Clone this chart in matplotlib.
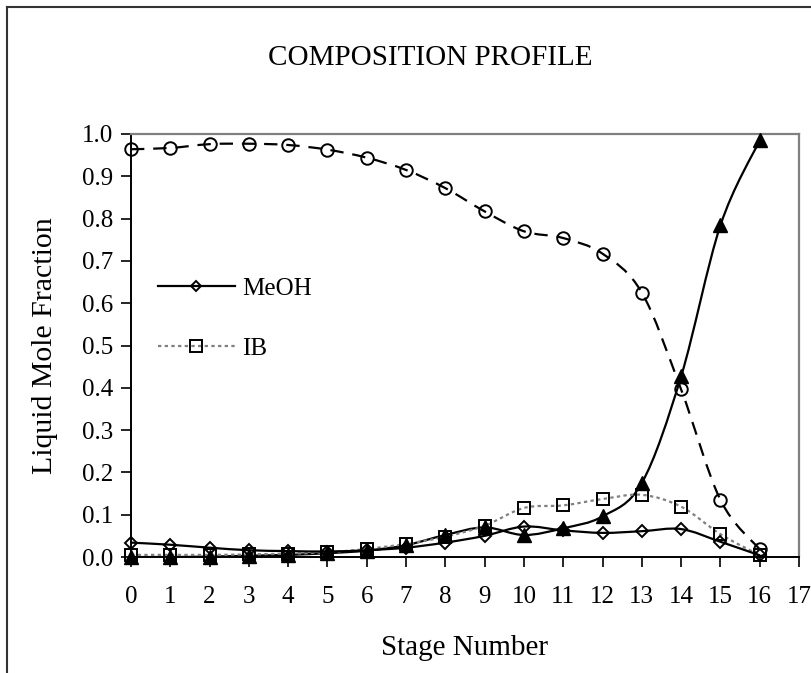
import numpy as np
import matplotlib
matplotlib.use("Agg")
import matplotlib.pyplot as plt
from matplotlib.path import Path
from matplotlib.patches import PathPatch
from matplotlib.lines import Line2D

plt.rcParams['font.family'] = ['Liberation Serif', 'DejaVu Serif']

stages = list(range(17))
circle_series = [0.964, 0.967, 0.976, 0.977, 0.974, 0.963, 0.944, 0.915, 0.872,
                 0.817, 0.770, 0.754, 0.717, 0.625, 0.396, 0.135, 0.018]
triangle_series = [0.000, 0.000, 0.001, 0.003, 0.005, 0.009, 0.015, 0.028, 0.052,
                   0.070, 0.052, 0.068, 0.096, 0.175, 0.427, 0.784, 0.985]
meoh = [0.034, 0.029, 0.022, 0.016, 0.014, 0.013, 0.016, 0.022, 0.034,
        0.050, 0.072, 0.063, 0.057, 0.061, 0.066, 0.036, 0.004]
ib = [0.005, 0.005, 0.005, 0.006, 0.008, 0.011, 0.019, 0.031, 0.048,
      0.074, 0.116, 0.122, 0.137, 0.147, 0.119, 0.054, 0.004]

xticks = list(range(18))
yticks = [0.0, 0.1, 0.2, 0.3, 0.4, 0.5, 0.6, 0.7, 0.8, 0.9, 1.0]


def smooth_path(x, y):
    x = np.asarray(x, float)
    y = np.asarray(y, float)
    pts = np.column_stack([x, y])
    n = len(pts)
    verts = [pts[0]]
    codes = [Path.MOVETO]
    for i in range(n - 1):
        p0 = pts[i - 1] if i > 0 else pts[i]
        p1 = pts[i]
        p2 = pts[i + 1]
        p3 = pts[i + 2] if i + 2 < n else pts[i + 1]
        c1 = p1 + (p2 - p0) / 6.0
        c2 = p2 - (p3 - p1) / 6.0
        verts += [c1, c2, p2]
        codes += [Path.CURVE4] * 3
    return Path(verts, codes)


fig = plt.figure(figsize=(8.12, 6.73), dpi=100)
ax = fig.add_axes([131 / 812, 1 - 557 / 673, (799 - 131) / 812, (557 - 134) / 673])

gray = '#808080'

# smoothed lines
ax.add_patch(PathPatch(smooth_path(stages, circle_series), fill=False, edgecolor='black',
                       lw=1.6, linestyle=(0, (6, 4)), zorder=2))
ax.add_patch(PathPatch(smooth_path(stages, triangle_series), fill=False, edgecolor='black',
                       lw=1.6, zorder=2))
ax.add_patch(PathPatch(smooth_path(stages, ib), fill=False, edgecolor=gray,
                       lw=1.6, linestyle=(0, (1.5, 1.5)), zorder=2))
ax.add_patch(PathPatch(smooth_path(stages, meoh), fill=False, edgecolor='black',
                       lw=1.6, zorder=2))

# markers
ax.plot(stages, circle_series, linestyle='none', marker='o', ms=9, mfc='none',
        mec='black', mew=1.4, zorder=3, clip_on=False)
ax.plot(stages, ib, linestyle='none', marker='s', ms=8.5, mfc='none',
        mec='black', mew=1.4, zorder=3, clip_on=False)
ax.plot(stages, meoh, linestyle='none', marker='D', ms=6.5, mfc='none',
        mec='black', mew=1.4, zorder=4, clip_on=False)
ax.plot(stages, triangle_series, linestyle='none', marker='^', ms=9.5, mfc='black',
        mec='black', mew=1, zorder=4, clip_on=False)

ax.set_xlim(0, 17)
ax.set_ylim(0, 1.0)
ax.set_xticks(xticks)
ax.set_xticklabels([str(t) for t in xticks])
ax.set_yticks(yticks)
ax.set_yticklabels([f"{t:.1f}" for t in yticks])
ax.tick_params(axis='both', direction='out', length=7, width=1.2, labelsize=18,
               colors='black')
ax.tick_params(axis='x', pad=14)
ax.tick_params(axis='y', pad=6)

for s in ['left', 'bottom']:
    ax.spines[s].set_color('black')
    ax.spines[s].set_linewidth(1.4)
for s in ['top', 'right']:
    ax.spines[s].set_color(gray)
    ax.spines[s].set_linewidth(1.6)

ax.set_xlabel('Stage Number', fontsize=21, labelpad=19)
ax.set_ylabel('Liquid Mole Fraction', fontsize=21.5, labelpad=17)
fig.text(430 / 812, 1 - 58 / 673, 'COMPOSITION PROFILE', fontsize=21,
         ha='center', va='center')

handles = [
    Line2D([], [], color='black', lw=1.6, marker='D', ms=5.5, mfc='none', mec='black', mew=1.4),
    Line2D([], [], color=gray, lw=1.6, linestyle=(0, (1.5, 1.5)), marker='s', ms=8,
           mfc='none', mec='black', mew=1.4),
]
ax.legend(handles, ['MeOH', 'IB'], loc='upper left', bbox_to_anchor=(0.006, 0.715),
          frameon=False, fontsize=18, handlelength=3.1, handletextpad=0.3,
          labelspacing=1.5)

# outer frame (left and top visible)
fig.add_artist(Line2D([7 / 812, 7 / 812], [0, 1 - 7 / 673], transform=fig.transFigure,
                      color='#333333', lw=1.5))
fig.add_artist(Line2D([7 / 812, 1], [1 - 7 / 673, 1 - 7 / 673], transform=fig.transFigure,
                      color='#333333', lw=1.5))

fig.savefig('out.png', dpi=100)
